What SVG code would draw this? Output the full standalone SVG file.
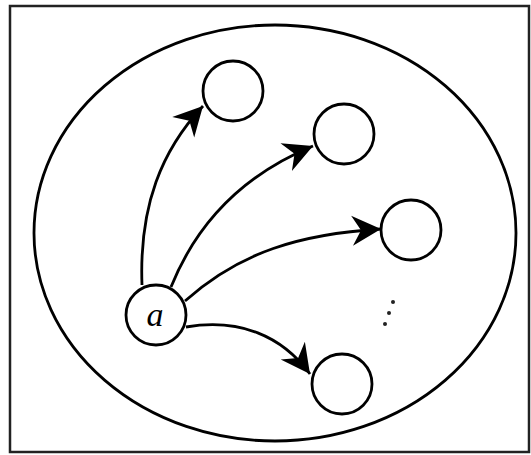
<svg xmlns="http://www.w3.org/2000/svg" width="531" height="455" viewBox="0 0 531 455">
<style>
.frame{fill:#fff;stroke:#222;stroke-width:2.5}
.outer{fill:none;stroke:#000;stroke-width:2.8}
.node{fill:#fff;stroke:#000;stroke-width:2.8}
.edge{fill:none;stroke:#000;stroke-width:2.8}
.lbl{font-family:"Liberation Serif",serif;font-style:italic;font-size:34px;fill:#000}
.dot{fill:#222}
</style>
<defs>
<marker id="ah" markerUnits="userSpaceOnUse" markerWidth="36" markerHeight="36" viewBox="-32 -18 36 36" refX="0" refY="0" orient="auto">
<path d="M0,0 L-29,-15 L-20,0 L-29,15 Z" fill="#000"/>
</marker>
</defs>
<rect class="frame" x="10" y="6" width="519" height="446"/>
<ellipse class="outer" cx="275" cy="233" rx="241" ry="208"/>
<g id="edges">
<path class="edge" d="M142,285 C139,205 162,150 203,106" marker-end="url(#ah)"/>
<path class="edge" d="M171,287 C200,215 250,172 313,146" marker-end="url(#ah)"/>
<path class="edge" d="M185,301 C240,252 300,234 381,229" marker-end="url(#ah)"/>
<path class="edge" d="M186,327 C240,318 282,336 310,374" marker-end="url(#ah)"/>
</g>
<g id="node-a"><circle class="node" cx="156" cy="315" r="30"/><text class="lbl" x="155" y="326" text-anchor="middle">a</text></g>
<g id="node-1"><circle class="node" cx="233" cy="91" r="30"/></g>
<g id="node-2"><circle class="node" cx="344" cy="134" r="30"/></g>
<g id="node-3"><circle class="node" cx="411" cy="230" r="30"/></g>
<g id="node-4"><circle class="node" cx="342" cy="384" r="30"/></g>
<g id="ellipsis">
<circle class="dot" cx="393" cy="302" r="2"/>
<circle class="dot" cx="389" cy="313" r="2"/>
<circle class="dot" cx="385" cy="324" r="2"/>
</g>
</svg>
